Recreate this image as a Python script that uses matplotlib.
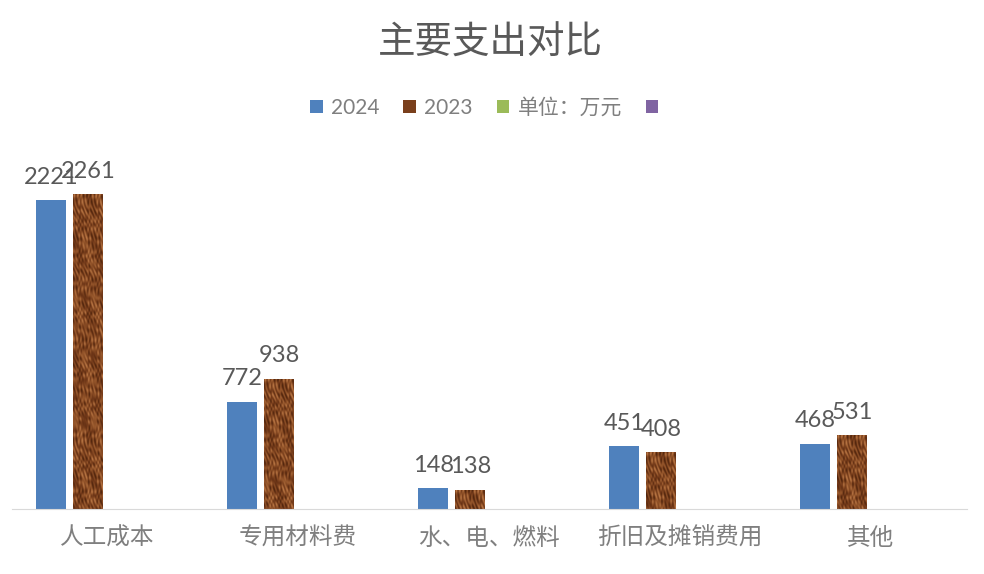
import matplotlib.pyplot as plt
from matplotlib.colors import LinearSegmentedColormap
import numpy as np

categories = ["人工成本", "专用材料费", "水、电、燃料", "折旧及摊销费用", "其他"]
v2024 = [2221, 772, 148, 451, 468]
v2023 = [2261, 938, 138, 408, 531]
series_names = ["2024", "2023", "单位：万元", " "]

plt.rcParams['font.family'] = ['Lato', 'Noto Sans CJK SC', 'DejaVu Sans']
cjk = ['Noto Sans CJK SC', 'DejaVu Sans']

fig = plt.figure(figsize=(9.84, 5.74), dpi=100)
ax = fig.add_axes([11.5 / 984, 1 - 509 / 574, 955 / 984, 361.7 / 574])

x = np.arange(len(categories))
step = 0.194
w = 0.157
offs = (np.arange(4) - 1.5) * step

b1 = ax.bar(x + offs[0], v2024, w, color="#4f81bd", label=series_names[0])
b2 = ax.bar(x + offs[1], v2023, w, color="#7a3f1c", label=series_names[1])
# empty series, only in the legend
ax.bar(x + offs[2], [0] * len(x), w, color="#9bbb59", label=series_names[2])
ax.bar(x + offs[3], [0] * len(x), w, color="#8064a2", label=series_names[3])

# mottled brown texture for the 2023 bars
brown = LinearSegmentedColormap.from_list("br", ["#4a220b", "#6e3617", "#94552a", "#c07d4a"])
yy, xx = np.mgrid[0:400, 0:40].astype(float)
tex = (np.sin(xx * 0.75 + 2.2 * np.sin(yy * 0.21))
       * np.sin(yy * 0.37 + 2.0 * np.cos(xx * 0.52))
       + 0.5 * np.sin(xx * 1.3 - yy * 0.6 + np.sin(yy * 0.13) * 3))
for r in b2:
    h = r.get_height()
    rows = max(int(h * 0.139), 2)
    im = ax.imshow(tex[:rows], cmap=brown, aspect="auto", interpolation="bilinear",
                   extent=(r.get_x(), r.get_x() + r.get_width(), 0, h), zorder=2)
    im.set_clip_path(r)

for bars, vals in ((b1, v2024), (b2, v2023)):
    for r, v in zip(bars, vals):
        ax.annotate(str(v), (r.get_x() + r.get_width() / 2, v),
                    xytext=(0, 9), textcoords="offset points",
                    ha="center", va="bottom", fontsize=17, color="#595959", zorder=3)

ax.set_xlim(-0.5, len(categories) - 0.5)
ax.set_ylim(0, 2600)
ax.set_yticks([])
ax.set_xticks(x)
ax.set_xticklabels(categories, family=cjk, fontsize=17, color="#7f7f7f")
ax.tick_params(axis="x", length=0, pad=13)
for s in ["top", "right", "left"]:
    ax.spines[s].set_visible(False)
ax.spines["bottom"].set_color("#d9d9d9")

fig.text(0.498, 1 - 43 / 574, "主要支出对比", ha="center", va="center",
         family=cjk, fontsize=27, color="#595959")

fig.legend(loc="center", bbox_to_anchor=(0.499, 1 - 108 / 574), ncol=4, frameon=False,
           fontsize=15, handlelength=0.6, handleheight=0.6, handletextpad=0.4,
           columnspacing=1.15, labelcolor="#7f7f7f")

fig.savefig("out.png", dpi=100)
